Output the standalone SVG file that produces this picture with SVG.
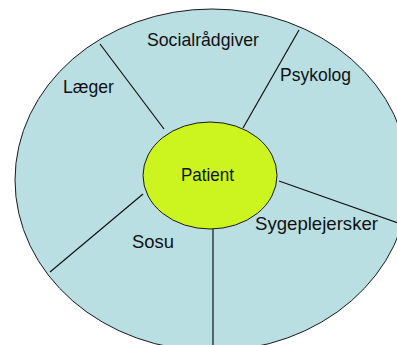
<svg xmlns="http://www.w3.org/2000/svg" width="397" height="345" viewBox="0 0 397 345">
  <style>
    .ring { fill: #B9DFE3; stroke: #1a1a1a; stroke-width: 1; }
    .core { fill: #CCF41E; stroke: #1a1a1a; stroke-width: 1; }
    .spoke { stroke: #111; stroke-width: 1.2; fill: none; }
    .lbl { font-family: "Liberation Sans", Arial, sans-serif; font-size: 18.5px; fill: #111; }
  </style>
  <rect width="397" height="345" fill="#ffffff"/>

  <!-- outer ring with the care groups -->
  <g id="ring">
    <ellipse class="ring" cx="212" cy="180" rx="197" ry="171"/>
  </g>

  <!-- dividers between the groups -->
  <g id="connectors">
    <line class="spoke" x1="100" y1="44" x2="164" y2="129"/>
    <line class="spoke" x1="299" y1="30" x2="243" y2="128"/>
    <line class="spoke" x1="279" y1="181" x2="404" y2="225"/>
    <line class="spoke" x1="213" y1="229" x2="213" y2="345"/>
    <line class="spoke" x1="143" y1="194" x2="50" y2="272"/>
  </g>

  <g id="laeger">
    <text class="lbl" x="63" y="93" textLength="51" lengthAdjust="spacingAndGlyphs">Læger</text>
  </g>
  <g id="socialraadgiver">
    <text class="lbl" x="147" y="46" textLength="112" lengthAdjust="spacingAndGlyphs">Socialrådgiver</text>
  </g>
  <g id="psykolog">
    <text class="lbl" x="280" y="81" textLength="71" lengthAdjust="spacingAndGlyphs">Psykolog</text>
  </g>
  <g id="sygeplejersker">
    <text class="lbl" x="255" y="230" textLength="123" lengthAdjust="spacingAndGlyphs">Sygeplejersker</text>
  </g>
  <g id="sosu">
    <text class="lbl" x="132" y="248" textLength="42" lengthAdjust="spacingAndGlyphs">Sosu</text>
  </g>

  <!-- centre node -->
  <g id="patient">
    <ellipse class="core" cx="210" cy="175.5" rx="67" ry="53.5"/>
    <text class="lbl" x="181" y="181" textLength="53" lengthAdjust="spacingAndGlyphs">Patient</text>
  </g>
</svg>
